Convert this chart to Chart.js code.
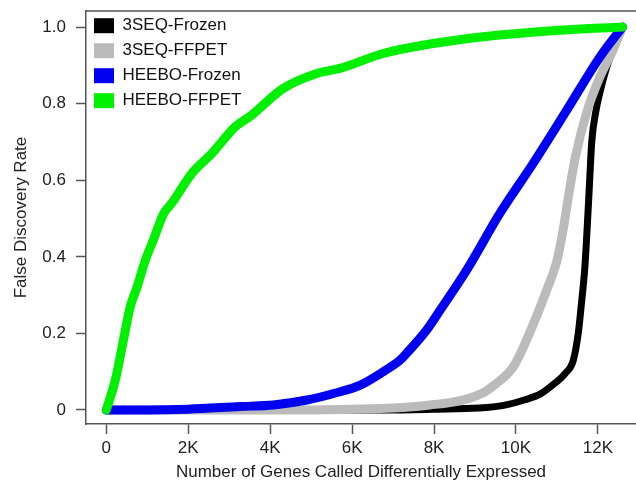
<!DOCTYPE html>
<html>
<head>
<meta charset="utf-8">
<script src="https://cdn.jsdelivr.net/npm/chart.js@4"></script>
<style>
  html, body { margin: 0; padding: 0; background: #fff; }
  #chart { display: block; }
</style>
</head>
<body>
<canvas id="chart" width="636" height="484"></canvas>
<script>
const seriesNames = ['3SEQ-Frozen', '3SEQ-FFPET', 'HEEBO-Frozen', 'HEEBO-FFPET'];
const seriesColors = ['#000000', '#bbbbbb', '#0000f0', '#00f000'];

// 3SEQ-Frozen
const frozen3seqX = [0, 6800, 8000, 9100, 9700, 10200, 10600, 10950, 11200, 11400, 11520, 11600, 11680, 11720, 11780, 11850, 11950, 12050, 12200, 12400, 12600];
const frozen3seqY = [0, 0, 0.002, 0.005, 0.012, 0.026, 0.042, 0.07, 0.095, 0.13, 0.2, 0.28, 0.37, 0.44, 0.56, 0.7, 0.78, 0.83, 0.89, 0.95, 1.0];
// 3SEQ-FFPET
const ffpet3seqX = [0, 4600, 6000, 7000, 7900, 8700, 9200, 9530, 9800, 9935, 10100, 10260, 10500, 10750, 11000, 11150, 11300, 11450, 11720, 12050, 12370, 12600];
const ffpet3seqY = [0, 0, 0.002, 0.005, 0.013, 0.026, 0.045, 0.07, 0.095, 0.113, 0.145, 0.183, 0.244, 0.313, 0.39, 0.47, 0.57, 0.66, 0.775, 0.87, 0.94, 1.0];
// HEEBO-Frozen
const frozenHeeboX = [0, 1000, 2000, 3270, 4080, 4900, 5550, 6200, 6760, 7170, 7330, 7820, 8150, 8800, 9610, 10420, 11240, 12050, 12600];
const frozenHeeboY = [0, 0, 0.002, 0.009, 0.013, 0.026, 0.043, 0.065, 0.1, 0.13, 0.148, 0.209, 0.261, 0.366, 0.514, 0.644, 0.783, 0.922, 1.0];
// HEEBO-FFPET
const ffpetHeeboX = [0, 220, 420, 585, 750, 950, 1150, 1400, 1600, 2090, 2580, 3150, 3500, 4320, 5140, 5700, 6760, 7980, 9200, 11070, 12600];
const ffpetHeeboY = [0, 0.078, 0.183, 0.27, 0.32, 0.39, 0.444, 0.513, 0.54, 0.618, 0.67, 0.74, 0.766, 0.84, 0.879, 0.892, 0.931, 0.957, 0.975, 0.992, 1.0];

const xTicks = [0, 2000, 4000, 6000, 8000, 10000, 12000];
const xTickLabels = ['0', '2K', '4K', '6K', '8K', '10K', '12K'];
const yTicks = [0, 0.2, 0.4, 0.6, 0.8, 1.0];
const yTickLabels = ['0', '0.2', '0.4', '0.6', '0.8', '1.0'];

const xs = [frozen3seqX, ffpet3seqX, frozenHeeboX, ffpetHeeboX];
const ys = [frozen3seqY, ffpet3seqY, frozenHeeboY, ffpetHeeboY];

const frameColor = '#555';
const textColor = '#222';
const font = { family: 'Arial, "Liberation Sans", sans-serif', size: 17 };

const datasets = seriesNames.map((name, i) => ({
  label: name,
  data: xs[i].map((x, j) => ({ x, y: ys[i][j] })),
  borderColor: seriesColors[i],
  backgroundColor: seriesColors[i],
  borderWidth: i === 0 ? 7 : 9,
  borderCapStyle: 'round',
  borderJoinStyle: 'round',
  pointRadius: 0,
  showLine: true,
  cubicInterpolationMode: 'monotone',
  order: seriesNames.length - i
}));

// frame line along the top of the plot
const topFrame = {
  id: 'topFrame',
  afterDatasetsDraw(chart) {
    const { ctx, chartArea } = chart;
    ctx.save();
    ctx.strokeStyle = frameColor;
    ctx.lineWidth = 1.5;
    ctx.beginPath();
    ctx.moveTo(chartArea.left, chartArea.top);
    ctx.lineTo(chartArea.right, chartArea.top);
    ctx.stroke();
    ctx.restore();
  }
};

new Chart(document.getElementById('chart'), {
  type: 'scatter',
  data: { datasets },
  options: {
    responsive: false,
    animation: false,
    layout: { padding: { top: 11, right: 0, left: 0, bottom: 0 } },
    plugins: {
      tooltip: { enabled: false },
      legend: {
        position: 'chartArea',
        align: 'start',
        title: { display: true, text: ' ', font: { size: 1 }, padding: { top: 8, bottom: 0 } },
        labels: {
          font,
          color: '#111',
          boxWidth: 20,
          boxHeight: 15,
          padding: 8,
          sort: (a, b) => a.datasetIndex - b.datasetIndex,
          generateLabels(chart) {
            return Chart.defaults.plugins.legend.labels.generateLabels(chart).map(item => ({
              ...item,
              lineWidth: 0,
              fillStyle: seriesColors[item.datasetIndex],
              strokeStyle: seriesColors[item.datasetIndex]
            }));
          }
        }
      }
    },
    scales: {
      x: {
        type: 'linear',
        min: -495,
        max: 12930,
        afterBuildTicks: (scale) => { scale.ticks = xTicks.map(v => ({ value: v })); },
        afterFit: (scale) => { scale.height = 60; scale.paddingLeft = 0; scale.paddingRight = 0; },
        ticks: {
          font,
          color: textColor,
          padding: 4,
          maxRotation: 0,
          callback: (v, i) => xTickLabels[i]
        },
        grid: { drawOnChartArea: false, tickLength: 10, tickColor: frameColor, tickWidth: 1.5 },
        border: { color: frameColor, width: 1.5 },
        title: {
          display: true,
          text: 'Number of Genes Called Differentially Expressed',
          font,
          color: textColor,
          padding: { top: 1, bottom: 1 }
        }
      },
      y: {
        type: 'linear',
        min: -0.0366,
        max: 1.042,
        afterBuildTicks: (scale) => { scale.ticks = yTicks.map(v => ({ value: v })); },
        afterFit: (scale) => { scale.width = 86; scale.paddingTop = 0; scale.paddingBottom = 0; },
        ticks: {
          font,
          color: textColor,
          padding: 10,
          callback: (v, i) => yTickLabels[i]
        },
        grid: { drawOnChartArea: false, tickLength: 10, tickColor: frameColor, tickWidth: 1.5 },
        border: { color: frameColor, width: 1.5 },
        title: {
          display: true,
          text: 'False Discovery Rate',
          font,
          color: textColor,
          padding: { top: 11, bottom: 0 }
        }
      }
    }
  },
  plugins: [topFrame]
});
</script>
</body>
</html>
